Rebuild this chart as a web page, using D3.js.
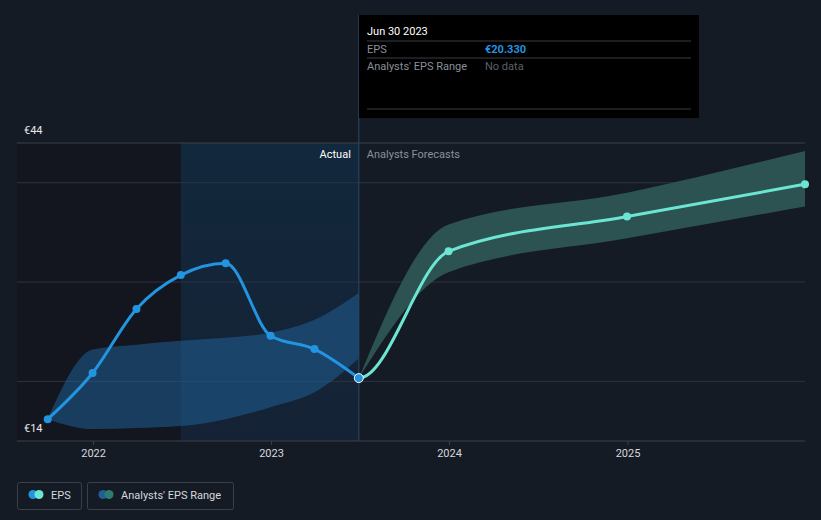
<!DOCTYPE html>
<html><head><meta charset="utf-8">
<script src="https://cdn.jsdelivr.net/npm/d3@7"></script>
<style>
html,body{margin:0;padding:0;background:#151b25;}
svg{display:block;font-family:Roboto,"Open Sans",sans-serif;}
</style></head>
<body>
<svg id="c" width="821" height="520"></svg>
<script>
// ---- data ----
const epsDates = ["2021-09-30","2021-12-31","2022-03-31","2022-06-30","2022-09-30","2022-12-31","2023-03-31","2023-06-30"];
const epsValues = [16.2, 20.85, 27.3, 30.7, 31.9, 24.6, 23.25, 20.33];
const pastRangeDates = ["2021-09-30","2021-12-31","2022-03-31","2022-06-30","2022-09-30","2022-12-31","2023-03-31","2023-06-30"];
const pastRangeHigh = [16.2, 23.2, 23.7, 24.1, 24.4, 24.9, 26.2, 28.9];
const pastRangeLow = [16.2, 15.2, 15.3, 15.5, 16.2, 17.4, 18.9, 22.3];
const fcDates = ["2023-06-30","2023-12-31","2024-12-31","2025-12-31"];
const fcValues = [20.33, 33.1, 36.6, 39.85];
const fcHigh = [20.33, 35.8, 39.0, 43.2];
const fcLow = [20.33, 31.0, 34.4, 37.6];
const yTickValues = [14, 44];
const yTickLabels = ["€14", "€44"];
const gridValues = [20, 30, 40];
const xTickYears = ["2022","2023","2024","2025"];
const tooltipDate = "Jun 30 2023";
const tooltipEps = "€20.330";
const tooltipRange = "No data";

(function(){
const parse = d3.timeParse("%Y-%m-%d");
const svg = d3.select("#c");
const W = 821, H = 520;
const pLeft = 17, pRight = 805, pTop = 143, pBottom = 441;

const x = d3.scaleTime().domain([parse("2021-07-29"), parse("2025-12-31")]).range([pLeft, pRight]);
const y = d3.scaleLinear().domain([14, 44]).range([pBottom, pTop]);

const defs = svg.append("defs");
const g1 = defs.append("linearGradient").attr("id","hl").attr("x1",0).attr("x2",0).attr("y1",0).attr("y2",1);
g1.append("stop").attr("offset","0%").attr("stop-color","#12283c");
g1.append("stop").attr("offset","100%").attr("stop-color","#152235");

const splitDate = parse("2022-06-30"), nowDate = parse("2023-06-30");
defs.append("clipPath").attr("id","fut").append("rect")
  .attr("x",x(nowDate)).attr("y",0).attr("width",W).attr("height",H);

svg.append("rect").attr("width",W).attr("height",H).attr("fill","#151b25");

svg.append("rect").attr("x",pLeft).attr("y",pTop).attr("width",x(splitDate)-pLeft).attr("height",pBottom-pTop).attr("fill","#13161e");
svg.append("rect").attr("x",x(splitDate)).attr("y",pTop).attr("width",x(nowDate)-x(splitDate)).attr("height",pBottom-pTop).attr("fill","url(#hl)");

svg.append("g").selectAll("line").data(gridValues).join("line")
  .attr("x1",pLeft).attr("x2",pRight).attr("y1",d=>y(d)).attr("y2",d=>y(d))
  .attr("stroke","#2c3340").attr("stroke-width",1);
svg.append("line").attr("x1",pLeft).attr("x2",pRight).attr("y1",y(44)).attr("y2",y(44)).attr("stroke","#3a404b");

const pastBand = pastRangeDates.map((d,i)=>({d:parse(d),lo:pastRangeLow[i],hi:pastRangeHigh[i]}));
const fcBand = fcDates.map((d,i)=>({d:parse(d),lo:fcLow[i],hi:fcHigh[i]}));
const area = d3.area().x(d=>x(d.d)).y0(d=>y(d.lo)).y1(d=>y(d.hi)).curve(d3.curveMonotoneX);
svg.append("path").datum(pastBand).attr("d",area).attr("fill","#1f5f93").attr("fill-opacity",0.55);
svg.append("path").datum(fcBand).attr("d",area).attr("fill","#2f5956").attr("fill-opacity",0.9);

svg.append("line").attr("x1",x(nowDate)).attr("x2",x(nowDate)).attr("y1",15).attr("y2",pBottom)
  .attr("stroke","#2b4a66").attr("stroke-width",1);

svg.append("line").attr("x1",pLeft).attr("x2",pRight).attr("y1",pBottom).attr("y2",pBottom).attr("stroke","#3a404b");
const xAxis = d3.axisBottom(x).tickValues(xTickYears.map(s=>parse(s+"-01-01"))).tickFormat(d3.timeFormat("%Y")).tickSize(4).tickPadding(4);
const ax = svg.append("g").attr("transform",`translate(0,${pBottom})`).call(xAxis);
ax.select(".domain").remove();
ax.selectAll("line").attr("stroke","#3a404b");
ax.selectAll("text").attr("fill","#d6d8dc").attr("font-size",11).attr("font-family","Roboto,sans-serif");

svg.append("g").selectAll("text").data(yTickValues).join("text")
  .attr("x",24).attr("y",d=>y(d)-9).attr("fill","#e6e8ea").attr("font-size",11)
  .text((d,i)=>yTickLabels[i]);

const eps = epsDates.map((d,i)=>({d:parse(d),v:epsValues[i]}));
const fc = fcDates.map((d,i)=>({d:parse(d),v:fcValues[i]}));
const line = d3.line().x(d=>x(d.d)).y(d=>y(d.v)).curve(d3.curveMonotoneX);
// forecast line drawn as continuation of the full series so it leaves the last actual point smoothly
const full = eps.slice(0,-1).concat(fc);
svg.append("path").datum(full).attr("d",line).attr("clip-path","url(#fut)").attr("fill","none").attr("stroke","#6ce5d3").attr("stroke-width",3);
svg.append("path").datum(eps).attr("d",line).attr("fill","none").attr("stroke","#2394e0").attr("stroke-width",3);
svg.append("g").selectAll("circle").data(fc.slice(1)).join("circle")
  .attr("cx",d=>x(d.d)).attr("cy",d=>y(d.v)).attr("r",4).attr("fill","#6ce5d3");
svg.append("g").selectAll("circle").data(eps.slice(0,-1)).join("circle")
  .attr("cx",d=>x(d.d)).attr("cy",d=>y(d.v)).attr("r",4).attr("fill","#2394e0");
const last = eps[eps.length-1];
svg.append("circle").attr("cx",x(last.d)).attr("cy",y(last.v)).attr("r",4.5).attr("fill","#2394e0").attr("stroke","#ffffff").attr("stroke-width",1);

svg.append("text").attr("x",x(nowDate)-8).attr("y",158).attr("text-anchor","end").attr("fill","#ffffff").attr("font-size",11).text("Actual");
svg.append("text").attr("x",x(nowDate)+8).attr("y",158).attr("fill","#8a8f98").attr("font-size",11).text("Analysts Forecasts");

const tt = svg.append("g").attr("transform","translate(359,15)");
tt.append("rect").attr("width",340).attr("height",103).attr("fill","#000000");
tt.append("text").attr("x",8).attr("y",20).attr("fill","#ffffff").attr("font-size",11).text(tooltipDate);
[26,43,94].forEach(yy=>tt.append("line").attr("x1",8).attr("x2",332).attr("y1",yy).attr("y2",yy).attr("stroke","#3a3d42"));
tt.append("text").attr("x",8).attr("y",38).attr("fill","#8a8f98").attr("font-size",11).text("EPS");
tt.append("text").attr("x",126).attr("y",38).attr("fill","#2394e0").attr("font-size",11).attr("font-weight","bold").text(tooltipEps);
tt.append("text").attr("x",8).attr("y",55).attr("fill","#8a8f98").attr("font-size",11).text("Analysts' EPS Range");
tt.append("text").attr("x",126).attr("y",55).attr("fill","#5d6168").attr("font-size",11).text(tooltipRange);

const leg = svg.append("g");
const items = [{x:17,w:64,label:"EPS",c1:"#2394e0",c2:"#6ce5d3"},{x:87,w:146,label:"Analysts' EPS Range",c1:"#1f5f93",c2:"#2f7a73"}];
items.forEach(it=>{
  leg.append("rect").attr("x",it.x+0.5).attr("y",482.5).attr("width",it.w).attr("height",27).attr("rx",2).attr("fill","none").attr("stroke","#3a404b");
  leg.append("circle").attr("cx",it.x+16).attr("cy",494.5).attr("r",4.5).attr("fill",it.c1);
  leg.append("circle").attr("cx",it.x+22).attr("cy",494.5).attr("r",4.5).attr("fill",it.c2);
  leg.append("text").attr("x",it.x+34).attr("y",499).attr("fill","#d6d8dc").attr("font-size",11).text(it.label);
});
})();
</script>
</body></html>
